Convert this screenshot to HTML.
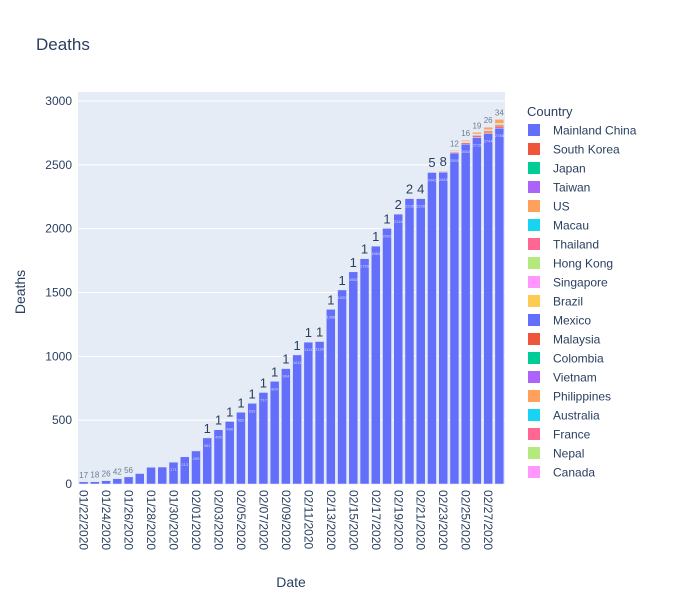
<!DOCTYPE html>
<html><head><meta charset="utf-8"><style>
body{margin:0;background:#fff;font-family:"Liberation Sans",Arial,sans-serif}
svg text{font-family:"Liberation Sans",Arial,sans-serif;fill:#2a3f5f}
</style></head><body>
<svg id="chart" width="700" height="600" xmlns="http://www.w3.org/2000/svg">
<rect width="700" height="600" fill="#fff"/>
<text x="36" y="50" font-size="17">Deaths</text>
<rect x="78" y="92" width="427" height="392" fill="#E5ECF6"/>
<g id="grid"></g><g id="bars"></g><g id="labels"></g><g id="xticks"></g><g id="yticks"></g>
<text x="291" y="587" font-size="14" text-anchor="middle">Date</text>
<text transform="translate(25,292) rotate(-90)" font-size="14" text-anchor="middle">Deaths</text>
<g id="legend">
<text x="527" y="116" font-size="13">Country</text>
</g>
</svg>
<script>
const dates=["01/22/2020","01/23/2020","01/24/2020","01/25/2020","01/26/2020","01/27/2020","01/28/2020","01/29/2020","01/30/2020","01/31/2020","02/01/2020","02/02/2020","02/03/2020","02/04/2020","02/05/2020","02/06/2020","02/07/2020","02/08/2020","02/09/2020","02/10/2020","02/11/2020","02/12/2020","02/13/2020","02/14/2020","02/15/2020","02/16/2020","02/17/2020","02/18/2020","02/19/2020","02/20/2020","02/21/2020","02/22/2020","02/23/2020","02/24/2020","02/25/2020","02/26/2020","02/27/2020","02/28/2020"];
const chinaDeaths=[17,18,26,42,56,82,131,133,171,213,259,361,425,490,562,632,717,804,904,1011,1111,1116,1368,1520,1662,1765,1863,2002,2114,2236,2236,2441,2443,2593,2663,2715,2744,2788];
const koreaDeaths=[0,0,0,0,0,0,0,0,0,0,0,0,0,0,0,0,0,0,0,0,0,0,0,0,0,0,0,0,0,1,2,2,6,8,10,12,13,16];
const pinkDeaths=[0,0,0,0,0,0,0,0,0,0,0,0,0,0,0,0,0,0,0,0,0,0,0,0,0,0,0,0,0,0,0,0,0,4,6,8,10,12];
const greenDeaths=[0,0,0,0,0,0,0,0,0,0,0,0,0,0,0,0,0,0,0,0,0,0,0,0,0,0,0,0,0,0,0,0,0,0,4,6,8,10];
const orangeDeaths=[0,0,0,0,0,0,0,0,0,0,0,0,0,0,0,0,0,0,0,0,0,0,0,0,0,0,0,0,0,0,0,0,4,8,10,14,20,30];
const topLabels=["17","18","26","42","56","","","","","","","1","1","1","1","1","1","1","1","1","1","1","1","1","1","1","1","1","2","2","4","5","8","12","16","19","26","34"];
const yTicks=[0,500,1000,1500,2000,2500,3000];
const countries=["Mainland China","South Korea","Japan","Taiwan","US","Macau","Thailand","Hong Kong","Singapore","Brazil","Mexico","Malaysia","Colombia","Vietnam","Philippines","Australia","France","Nepal","Canada"];
const palette=["#636efa","#EF553B","#00cc96","#ab63fa","#FFA15A","#19d3f3","#FF6692","#B6E880","#FF97FF","#FECB52"];
const NS="http://www.w3.org/2000/svg";
const X0=78,W=427,Y0=484;
const step=W/dates.length;
const xc=i=>X0+step*(i+0.5);
const y=v=>Y0-v*383/3000;
function mk(tag,attrs,parent,txt){const e=document.createElementNS(NS,tag);for(const k in attrs)e.setAttribute(k,attrs[k]);if(txt!==undefined)e.textContent=txt;document.getElementById(parent).appendChild(e);return e;}
yTicks.forEach(t=>{
  if(t>0){const g=mk('line',{x1:X0,x2:X0+W,y1:y(t),y2:y(t),stroke:'#fff','stroke-width':1},'grid');
  
  }
  const tl=mk('text',{x:72,y:y(t)+4,'font-size':12,'text-anchor':'end'},'yticks',String(t));
  
  
});
const bw=step*0.8;
const stacks=[[chinaDeaths,"#636efa"],[koreaDeaths,"#EF553B"],[pinkDeaths,"#FF6692"],[greenDeaths,"#B6E880"],[orangeDeaths,"#FFA15A"]];
dates.forEach((d,i)=>{
  let base=0;
  stacks.forEach(([arr,c],s)=>{
    const v=arr[i]; if(!v) return;
    const r=mk('rect',{x:xc(i)-bw/2,y:y(base+v),width:bw,height:y(base)-y(base+v),fill:c,stroke:'#E5ECF6','stroke-width':0.5},'bars');
    
    
    base+=v;
  });
  if(chinaDeaths[i]>150){
    const t=mk('text',{x:xc(i),y:y(chinaDeaths[i])+9,'font-size':4,'text-anchor':'middle',style:'fill:#fff;opacity:.7'},'labels',String(chinaDeaths[i]));
    
    
  }
  if(topLabels[i]){
    const small=i<5||i>32;
    const t=mk('text',{x:xc(i),y:y(base)-(small?4:5),'font-size':small?8:13,'text-anchor':'middle',style:small?'fill:#6b7a93':''},'labels',topLabels[i]);
    
    
  }
  if(i%2===0){
    const t=mk('text',{transform:`translate(${xc(i)-4},490) rotate(90)`,'font-size':12},'xticks',d);
    
    
  }
});
countries.forEach((c,k)=>{
  const yy=130+k*19;
  const r=mk('rect',{x:528,y:yy-6,width:12,height:12,fill:palette[k%10]},'legend');
  
  
  const t=mk('text',{x:553,y:yy+4.5,'font-size':12},'legend',c);
  
  
});
</script>
</body></html>
